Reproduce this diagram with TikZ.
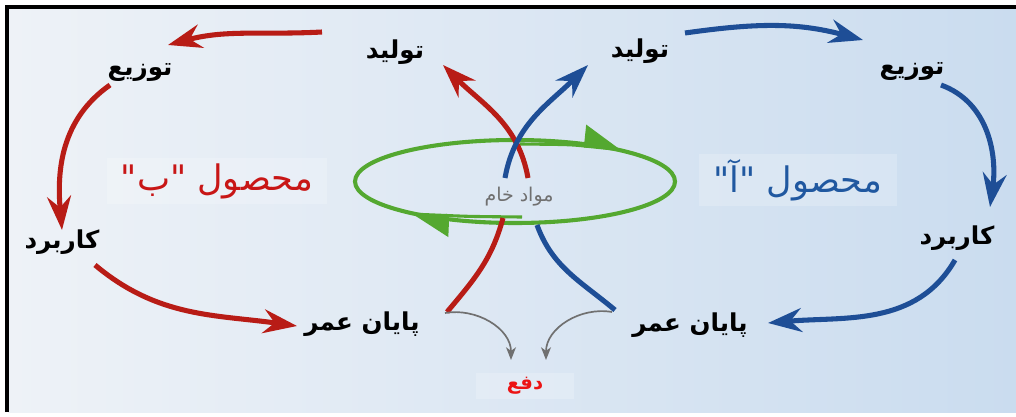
\documentclass[tikz,border=0pt]{standalone}
\usepackage{fontspec}
\usetikzlibrary{arrows.meta,calc}
\newfontfamily\fafont[Script=Arabic]{DejaVu Sans}
\TeXXeTstate=1
\newcommand{\fa}[1]{\beginR#1\endR}

\begin{document}
\begin{tikzpicture}[x=0.025cm,y=0.025cm,>=Stealth,font=\fafont]
\definecolor{cyclered}{RGB}{184,28,22}
\definecolor{cycleblue}{RGB}{30,78,150}
\definecolor{ringgreen}{RGB}{84,168,48}
\definecolor{flowgray}{RGB}{112,112,112}
\definecolor{titlered}{RGB}{200,22,22}
\definecolor{titleblue}{RGB}{32,88,160}
\definecolor{disposered}{RGB}{236,20,20}
\definecolor{bgleft}{RGB}{238,242,247}
\definecolor{bgright}{RGB}{202,220,239}
\tikzset{
  stage/.style={font=\fafont\bfseries\fontsize{17.5}{20}\selectfont,inner sep=1pt},
  product/.style={font=\fafont\fontsize{25}{28}\selectfont,fill=white,fill opacity=0.2,
    text opacity=1,inner xsep=10pt,inner ysep=4pt},
  redflow/.style={draw=cyclered,line width=3.6pt,-{Stealth[length=24pt,width=17pt,inset=8pt]}},
  blueflow/.style={draw=cycleblue,line width=3.6pt,-{Stealth[length=24pt,width=17pt,inset=8pt]}},
  redlink/.style={draw=cyclered,line width=3.6pt},
  bluelink/.style={draw=cycleblue,line width=3.6pt},
  grayflow/.style={draw=flowgray,line width=1.2pt,-{Stealth[length=9pt,width=7pt,inset=2.5pt]}},
  greenflow/.style={draw=ringgreen,line width=2.2pt,-{Triangle[harpoon,length=26pt,width=30pt]}}
}
\useasboundingbox (0,0) rectangle (1016,416);

% Background panel with a frame on the left and top.
\shade[left color=bgleft,right color=bgright] (8,4) rectangle (1016,409);
\draw[line width=2.2pt] (7,4) -- (7,409) -- (1016,409);

% Stages of product B (left) and product A (right).
\node[stage] (prodL) at (395,364) {\fa{تولید}};
\node[stage] (distL) at (140,344) {\fa{توزیع}};
\node[stage] (useL) at (62,174) {\fa{کاربرد}};
\node[stage] (eolL) at (362,92) {\fa{پایان عمر}};
\node[stage] (prodR) at (640,365) {\fa{تولید}};
\node[stage] (distR) at (912,345) {\fa{توزیع}};
\node[stage] (useR) at (957,178) {\fa{کاربرد}};
\node[stage] (eolR) at (690,91) {\fa{پایان عمر}};
\node[product,text=titlered] (titleL) at (217,235) {\fa{محصول "ب"}};
\node[product,text=titleblue] (titleR) at (798,236) {\fa{محصول "آ"}};
\node[text=flowgray,font=\fafont\fontsize{13.5}{15}\selectfont] (raw) at (519,219) {\fa{مواد خام}};
\node[font=\fafont\bfseries\fontsize{14}{16}\selectfont,text=disposered,fill=white,fill opacity=0.2,
  text opacity=1,inner xsep=22pt,inner ysep=3pt] (disp) at (525,30) {\fa{دفع}};

% Raw material ring.
\coordinate (ring) at (515,234.5);
\draw[ringgreen,line width=2.9pt] (ring) ellipse [x radius=160,y radius=41.5];
\draw[greenflow] ($(ring)+(5,37.5)$) .. controls ($(ring)+(55,37)$) .. ($(ring)+(108,31.5)$);
\draw[greenflow] ($(ring)+(7,-35.5)$) .. controls ($(ring)+(-45,-35)$) .. ($(ring)+(-105,-32.5)$);

% Cycle of product B.
\draw[redflow] ($(prodL)+(-73,20)$) to[out=183,in=15] ($(distL)+(28,27)$);
\draw[redflow] ($(distL)+(-30,-13)$) to[out=215,in=95] ($(useL)+(0,12)$);
\draw[redflow] ($(useL)+(33,-23)$) to[out=-40,in=172] ($(eolL)+(-65,-2)$);
\draw[redlink] ($(eolL)+(85,12)$) to[out=50,in=-105] ($(raw)+(-16,-21)$);
\draw[redflow] ($(raw)+(9,19)$) to[out=100,in=-45] ($(prodL)+(48,-13)$);

% Cycle of product A.
\draw[blueflow] ($(raw)+(-14,19)$) to[out=80,in=-135] ($(prodR)+(-52,-14)$);
\draw[blueflow] ($(prodR)+(45,18)$) to[out=8,in=165] ($(distR)+(-49,31)$);
\draw[blueflow] ($(distR)+(29,-14)$) to[out=-20,in=82] ($(useR)+(33,31)$);
\draw[blueflow] ($(useR)+(-2,-22)$) to[out=-120,in=5] ($(eolR)+(78,2)$);
\draw[bluelink] ($(eolR)+(-75,15)$) to[out=140,in=-70] ($(raw)+(18,-28)$);

% Disposal.
\draw[grayflow] ($(eolL)+(83,11)$) to[out=10,in=90] ($(disp)+(-14,26)$);
\draw[grayflow] ($(eolR)+(-78,13)$) to[out=170,in=90] ($(disp)+(21,26)$);
\end{tikzpicture}
\end{document}
